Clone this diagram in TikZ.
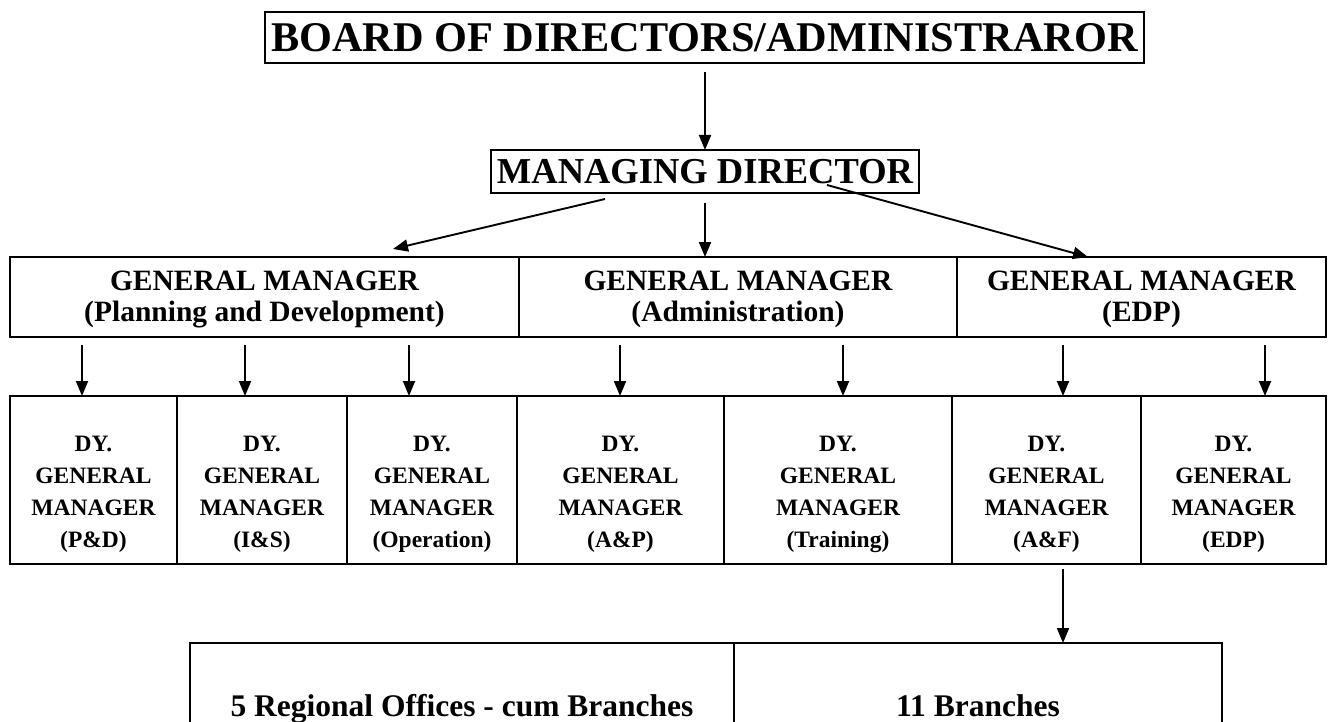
\documentclass[tikz,border=0pt]{standalone}
\usepackage{fontspec}
\setmainfont{Liberation Serif}
\usetikzlibrary{arrows.meta}
\tikzset{
  box/.style={draw, line width=2pt, rectangle, inner sep=0pt, outer sep=0pt},
  arr/.style={line width=1.9pt, -{Triangle[length=15pt,width=12pt]}},
  gmtext/.style={align=center, inner sep=0pt, font=\bfseries\fontsize{29.5}{31.5}\selectfont},
  dgmtext/.style={align=center, inner sep=0pt, font=\bfseries\fontsize{23.5}{32}\selectfont},
  bottext/.style={anchor=base, inner sep=0pt, font=\bfseries\fontsize{31.5}{36}\selectfont},
}
\begin{document}
\begin{tikzpicture}[x=1pt, y=-1pt]
\clip (0,0) rectangle (1332,722);
\fill[white] (0,0) rectangle (1332,722);

% top
\node[box, line width=2.5pt, minimum width=879pt, minimum height=51pt,
      font=\bfseries\fontsize{42.3}{48}\selectfont] (board) at (704.5,37.5) {BOARD OF DIRECTORS/ADMINISTRAROR};
\node[box, minimum width=428pt, minimum height=43pt,
      font=\bfseries\fontsize{36.5}{42}\selectfont] (md) at (705,171.5) {MANAGING DIRECTOR};

% general managers
\node[box, minimum width=509pt, minimum height=80pt] (gm1) at (264.5,297) {};
\node[box, minimum width=438pt, minimum height=80pt] (gm2) at (738,297) {};
\node[box, minimum width=369pt, minimum height=80pt] (gm3) at (1141.5,297) {};
\node[gmtext] (gt1) at (264.5,299.5) {GENERAL MANAGER\\(Planning and Development)};
\node[gmtext] (gt2) at (738,299.5) {GENERAL MANAGER\\(Administration)};
\node[gmtext] (gt3) at (1141.5,299.5) {GENERAL MANAGER\\(EDP)};

% deputy general managers
\node[box, minimum width=167pt, minimum height=168pt] (d1) at (93.5,480) {};
\node[box, minimum width=170pt, minimum height=168pt] (d2) at (262,480) {};
\node[box, minimum width=170pt, minimum height=168pt] (d3) at (432,480) {};
\node[box, minimum width=207pt, minimum height=168pt] (d4) at (620.5,480) {};
\node[box, minimum width=228pt, minimum height=168pt] (d5) at (838,480) {};
\node[box, minimum width=189pt, minimum height=168pt] (d6) at (1046.5,480) {};
\node[box, minimum width=185pt, minimum height=168pt] (d7) at (1233.5,480) {};
\node[dgmtext] (dt1) at (93.5,494) {DY.\\GENERAL\\MANAGER\\(P\&D)};
\node[dgmtext] (dt2) at (262,494) {DY.\\GENERAL\\MANAGER\\(I\&S)};
\node[dgmtext] (dt3) at (432,494) {DY.\\GENERAL\\MANAGER\\(Operation)};
\node[dgmtext] (dt4) at (620.5,494) {DY.\\GENERAL\\MANAGER\\(A\&P)};
\node[dgmtext] (dt5) at (838,494) {DY.\\GENERAL\\MANAGER\\(Training)};
\node[dgmtext] (dt6) at (1046.5,494) {DY.\\GENERAL\\MANAGER\\(A\&F)};
\node[dgmtext] (dt7) at (1233.5,494) {DY.\\GENERAL\\MANAGER\\(EDP)};

% bottom boxes (open at the bottom edge of the picture)
\node[box, minimum width=544pt, minimum height=157pt] (b1) at (462,721.5) {};
\node[box, minimum width=488pt, minimum height=157pt] (b2) at (978,721.5) {};
\node[bottext] (bt1) at (462,716) {5 Regional Offices - cum Branches};
\node[bottext] (bt2) at (978,716) {11 Branches};

% connectors
\coordinate (c0) at (705,72);
\draw[arr] (c0) -- (md.north);

\coordinate (ml) at (605,199);
\coordinate (mlt) at (393,249);
\coordinate (mc) at (705,203);
\coordinate (mr) at (827,185);
\coordinate (mrt) at (1088,257);
\draw[arr] (ml) -- (mlt);
\draw[arr] (mc) -- (mc |- gm2.north);
\draw[arr] (mr) -- (mrt);

\coordinate (s1) at (82,345);
\coordinate (s2) at (245,345);
\coordinate (s3) at (409,345);
\coordinate (s4) at (620,345);
\coordinate (s5) at (843,345);
\coordinate (s6) at (1063,345);
\coordinate (s7) at (1265,345);
\draw[arr] (s1) -- (s1 |- d1.north);
\draw[arr] (s2) -- (s2 |- d2.north);
\draw[arr] (s3) -- (s3 |- d3.north);
\draw[arr] (s4) -- (s4 |- d4.north);
\draw[arr] (s5) -- (s5 |- d5.north);
\draw[arr] (s6) -- (s6 |- d6.north);
\draw[arr] (s7) -- (s7 |- d7.north);

\coordinate (s8) at (1063,569);
\draw[arr] (s8) -- (s8 |- b2.north);
\end{tikzpicture}
\end{document}
